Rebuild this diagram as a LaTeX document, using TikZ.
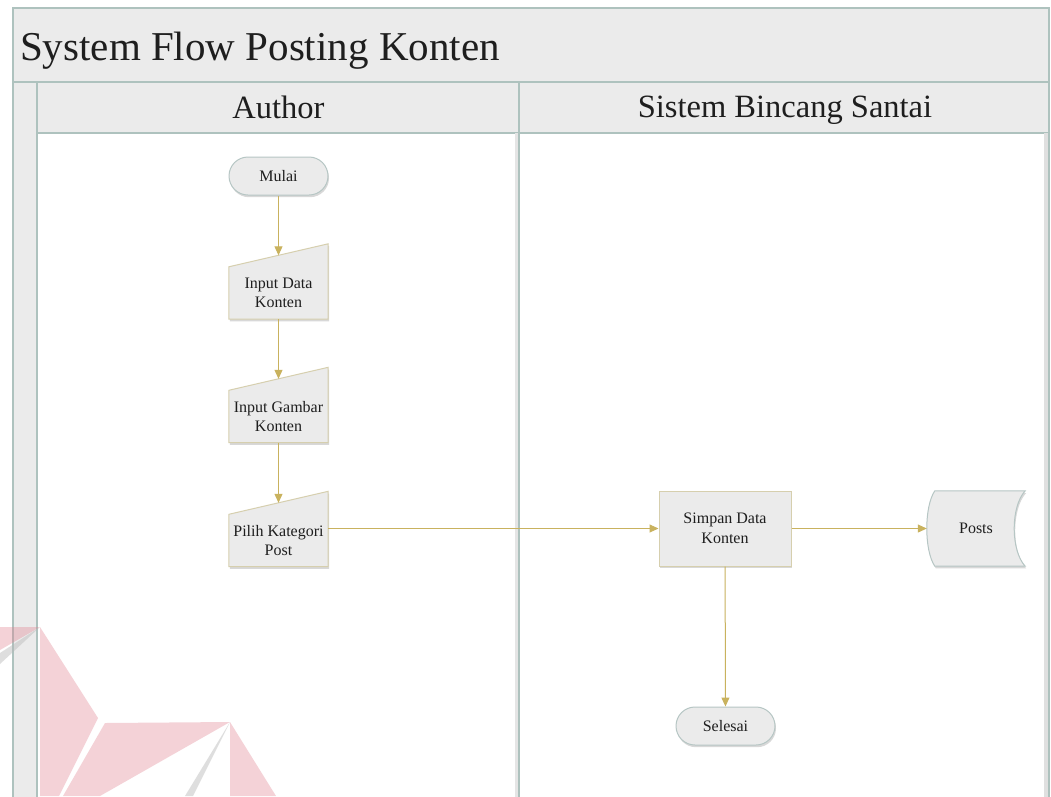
\documentclass[tikz,border=0pt]{standalone}
\usepackage{fontspec}
\setmainfont{Liberation Serif}
\usetikzlibrary{arrows.meta,shadows,calc}

\definecolor{hdrfill}{HTML}{EBEBEB}
\definecolor{hdrline}{HTML}{AEC2BE}
\definecolor{boxline}{HTML}{D6CFAE}
\definecolor{pillline}{HTML}{B6C6C4}
\definecolor{flow}{HTML}{C9B25E}
\definecolor{ink}{HTML}{1E1E1E}
\definecolor{logopink}{HTML}{E0808F}
\definecolor{logogray}{HTML}{B8B8B8}

\pgfdeclarelayer{pool}
\pgfdeclarelayer{shape}
\pgfdeclarelayer{logo}
\pgfsetlayers{pool,shape,main,logo}

\tikzset{
  poolbox/.style={fill=hdrfill, draw=hdrline, line width=1.1pt},
  boxshadow/.style={drop shadow={shadow xshift=1pt, shadow yshift=-2.2pt, opacity=0.28, fill=black!55}},
  nodetext/.style={text=ink, font=\fontsize{16}{19.5}\selectfont, align=center, inner sep=0pt},
  pill/.style={nodetext, rectangle, rounded corners=19pt, minimum width=99pt, minimum height=38pt,
    fill=hdrfill, draw=pillline, line width=1pt, boxshadow},
  process/.style={nodetext, rectangle, minimum width=132pt, minimum height=75pt,
    fill=hdrfill, draw=boxline, line width=1pt, boxshadow},
  inputbody/.style={nodetext, rectangle, minimum width=99pt, minimum height=52pt},
  inputshape/.style={fill=hdrfill, draw=boxline, line width=1pt, boxshadow},
  storebody/.style={nodetext, rectangle, minimum width=98pt, minimum height=75pt},
  storeshape/.style={fill=hdrfill, draw=pillline, line width=1pt, boxshadow},
  flowline/.style={draw=flow, line width=1pt, -{Triangle[length=9pt,width=8pt]}},
  lanehead/.style={text=ink, font=\fontsize{32.5}{36}\selectfont, inner sep=0pt, anchor=base},
}

\begin{document}
\begin{tikzpicture}[x=1pt, y=-1pt]
\useasboundingbox (0,0) rectangle (1051,796);

% ---------- pool, title band and lanes ----------
\begin{pgfonlayer}{pool}
  \fill[white] (0,0) rectangle (1051,796);
  \path[poolbox] (13,8) rectangle (1049,82);
  \path[poolbox] (13,82) rectangle (37,805);
  \path[poolbox] (37,82) rectangle (519,133);
  \path[poolbox] (519,82) rectangle (1049,133);
  % soft shading beside the lane separators
  \fill[black!10] (515,133) rectangle (518.5,805);
  \fill[black!12] (1044,133) rectangle (1048.5,805);
  \draw[hdrline, line width=1.4pt] (519,133) -- (519,805);
  \draw[hdrline, line width=1.4pt] (1049,133) -- (1049,805);
\end{pgfonlayer}

\node[anchor=base west, inner sep=0pt, text=ink, font=\fontsize{41}{46}\selectfont] (title) at (20,60) {System Flow Posting Konten};
\node[lanehead] (author) at (278.5,118) {Author};
\node[lanehead] (sistem) at (785,117.5) {Sistem Bincang Santai};

% ---------- Author lane ----------
\node[pill] (mulai) at (278.5,176) {Mulai};
\node[inputbody] (in1) at (278.5,293) {Input Data\\Konten};
\node[inputbody] (in2) at (278.5,416.5) {Input Gambar\\Konten};
\node[inputbody] (pilih) at (278.5,540.5) {Pilih Kategori\\Post};

% ---------- System lane ----------
\node[process] (simpan) at (725,528.5) {Simpan Data\\Konten};
\node[storebody] (posts) at (976,528.5) {Posts};
\node[pill] (selesai) at (725.5,726) {Selesai};

% manual input outlines (slanted top) and stored data outline
\begin{pgfonlayer}{shape}
  \foreach \n in {in1,in2,pilih}{
    \path[inputshape] (\n.south west) -- (\n.north west) -- ($(\n.north east)+(0,-23)$) -- (\n.south east) -- cycle;
  }
  \path[storeshape] ($(posts.north west)+(8,0)$) -- (posts.north east)
      .. controls ($(posts.east)+(-14.7,-22)$) and ($(posts.east)+(-14.7,22)$) .. (posts.south east)
      -- ($(posts.south west)+(8,0)$)
      .. controls ($(posts.west)+(-2.7,22)$) and ($(posts.west)+(-2.7,-22)$) .. ($(posts.north west)+(8,0)$)
      -- cycle;
\end{pgfonlayer}

% ---------- flow ----------
% the slanted tops sit 11.5pt above the body at mid width
\draw[flowline, shorten >=11.5pt] (mulai) -- (in1.north);
\draw[flowline, shorten >=11.5pt] (in1) -- (in2.north);
\draw[flowline, shorten >=11.5pt] (in2) -- (pilih.north);
\draw[flowline] ([yshift=12pt]pilih.east) -- (simpan.west);
\draw[flowline] (simpan.east) -- (posts.west);
\draw[flowline] (simpan) -- (selesai);

% ---------- faint logo mark ----------
\begin{pgfonlayer}{logo}
  \begin{scope}[fill opacity=0.35]
    \fill[logopink] (0,627) -- (40,627) -- (0,650) -- cycle;
    \fill[logopink] (40,627) -- (98,718) -- (59,796) -- (40,796) -- cycle;
    \fill[logopink] (105,723) -- (230,722) -- (100,796) -- (63,796) -- cycle;
    \fill[logopink] (230,722) -- (276,796) -- (230,796) -- cycle;
  \end{scope}
  \begin{scope}[fill opacity=0.45]
    \fill[logogray] (40,627) -- (0,653) -- (0,664) -- cycle;
    \fill[logogray] (230,722) -- (185,796) -- (193,796) -- cycle;
  \end{scope}
\end{pgfonlayer}
\end{tikzpicture}
\end{document}
